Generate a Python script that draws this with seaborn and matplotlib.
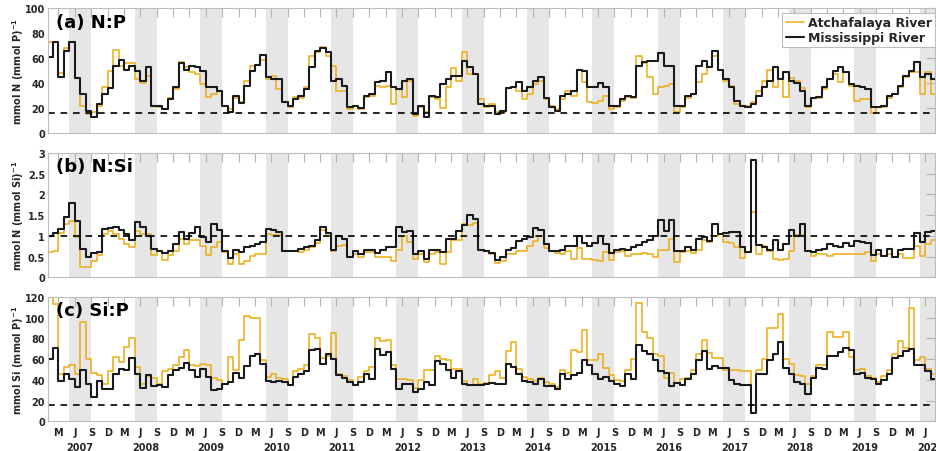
import numpy as np
import pandas as pd
import matplotlib
matplotlib.use("Agg")
import matplotlib.pyplot as plt
import matplotlib.dates as mdates
from matplotlib.ticker import FuncFormatter, MultipleLocator
import seaborn as sns

# ---------------- data (monthly, Jan 2007 - Jul 2020) ----------------
START = "2007-01-01"
RIVERS = ["Atchafalaya River", "Mississippi River"]
PANEL_TITLES = ["(a) N:P", "(b) N:Si", "(c) Si:P"]
YLABELS = [r"mmol N (mmol P)$^{-1}$", r"mmol N (mmol Si)$^{-1}$", r"mmol Si (mmol P)$^{-1}$"]
REF_LINES = [16, 1, 16]
YLIMS = [(0, 100), (0, 3), (0, 120)]
YSTEPS = [20, 0.5, 20]

np_miss = [61, 73, 45, 66, 73, 44, 31, 18, 13, 23, 31, 36,
           54, 59, 51, 54, 50, 42, 53, 22, 22, 19, 27, 37,
           56, 51, 54, 53, 50, 37, 37, 34, 22, 17, 30, 24,
           38, 50, 55, 63, 45, 43, 43, 25, 22, 27, 30, 35,
           53, 66, 68, 65, 42, 43, 38, 21, 22, 20, 30, 31,
           41, 42, 49, 37, 35, 42, 43, 15, 22, 13, 30, 29,
           39, 43, 46, 46, 58, 53, 47, 23, 22, 22, 15, 18,
           36, 37, 41, 34, 37, 42, 45, 28, 21, 18, 30, 31,
           34, 51, 50, 37, 37, 40, 37, 22, 22, 27, 30, 29,
           54, 57, 58, 58, 64, 54, 54, 22, 22, 30, 31, 54,
           58, 53, 66, 51, 43, 37, 26, 22, 21, 23, 30, 37,
           42, 53, 43, 49, 42, 40, 34, 22, 28, 29, 37, 43,
           50, 53, 49, 39, 38, 37, 35, 21, 21, 22, 30, 31,
           38, 46, 50, 57, 45, 47, 43]
np_atch = [73, 73, 48, 68, 73, 44, 22, 15, 17, 22, 37, 50,
           67, 54, 56, 56, 43, 40, 46, 22, 21, 19, 28, 35,
           57, 53, 49, 47, 39, 29, 31, 34, 22, 19, 28, 25,
           42, 54, 55, 59, 43, 46, 35, 25, 21, 29, 28, 37,
           62, 65, 69, 62, 54, 34, 34, 19, 22, 19, 29, 30,
           38, 37, 38, 23, 35, 29, 42, 14, 21, 17, 29, 27,
           20, 37, 52, 42, 65, 47, 47, 27, 21, 23, 17, 17,
           36, 37, 34, 27, 31, 39, 42, 27, 22, 19, 27, 34,
           30, 51, 41, 25, 24, 26, 30, 19, 21, 26, 29, 28,
           62, 56, 45, 31, 37, 38, 39, 17, 21, 28, 31, 41,
           47, 53, 62, 51, 42, 38, 23, 22, 22, 25, 34, 42,
           51, 37, 43, 29, 44, 42, 36, 21, 28, 28, 35, 43,
           47, 41, 49, 38, 26, 27, 27, 16, 21, 21, 28, 31,
           37, 45, 49, 49, 31, 49, 31]

nsi_miss = [1.0, 1.06, 1.17, 1.45, 1.79, 1.35, 0.68, 0.5, 0.58, 0.6, 1.17, 1.19,
            1.21, 1.14, 1.05, 0.9, 1.33, 1.22, 1.0, 0.68, 0.63, 0.58, 0.64, 0.8,
            1.09, 0.93, 1.06, 1.21, 0.97, 0.85, 1.29, 1.13, 0.64, 0.47, 0.66, 0.6,
            0.72, 0.76, 0.8, 0.85, 1.17, 1.14, 1.09, 0.64, 0.63, 0.63, 0.68, 0.72,
            0.76, 0.89, 1.22, 1.06, 0.66, 1.0, 0.93, 0.5, 0.63, 0.56, 0.66, 0.66,
            0.58, 0.66, 0.72, 0.72, 1.22, 1.09, 1.11, 0.56, 0.63, 0.44, 0.66, 0.66,
            0.6, 0.93, 0.93, 1.11, 1.25, 1.49, 1.41, 0.66, 0.63, 0.58, 0.42, 0.5,
            0.66, 0.71, 0.87, 0.93, 0.98, 1.19, 1.14, 0.8, 0.63, 0.63, 0.66, 0.76,
            0.76, 1.0, 0.82, 0.76, 0.82, 1.0, 0.8, 0.58, 0.66, 0.68, 0.66, 0.72,
            0.79, 0.85, 0.9, 1.0, 1.38, 1.11, 1.37, 0.63, 0.63, 0.74, 0.66, 0.93,
            0.97, 0.87, 1.29, 1.05, 1.06, 1.09, 1.09, 0.72, 0.6, 2.83, 0.79, 0.74,
            0.66, 0.89, 0.66, 0.8, 1.14, 1.0, 1.29, 0.63, 0.6, 0.66, 0.68, 0.8,
            0.76, 0.72, 0.82, 0.76, 0.87, 0.85, 0.82, 0.54, 0.66, 0.52, 0.68, 0.48,
            0.66, 0.68, 0.68, 1.06, 0.85, 1.09, 1.11]
nsi_atch = [0.6, 0.64, 1.06, 1.29, 1.35, 0.97, 0.24, 0.26, 0.39, 0.54, 1.05, 1.11,
            1.05, 0.93, 0.8, 0.72, 1.11, 1.05, 1.05, 0.54, 0.63, 0.42, 0.54, 0.64,
            0.93, 0.8, 0.89, 0.9, 0.76, 0.54, 0.72, 0.85, 0.6, 0.31, 0.56, 0.32,
            0.4, 0.52, 0.56, 0.56, 1.05, 1.03, 1.03, 0.63, 0.63, 0.63, 0.6, 0.66,
            0.72, 0.82, 1.14, 1.0, 0.64, 0.76, 0.78, 0.48, 0.56, 0.48, 0.6, 0.6,
            0.5, 0.48, 0.48, 0.39, 0.66, 1.0, 0.85, 0.44, 0.55, 0.36, 0.56, 0.6,
            0.32, 0.6, 0.89, 0.89, 1.29, 1.25, 1.3, 0.66, 0.63, 0.55, 0.34, 0.4,
            0.55, 0.55, 0.64, 0.64, 0.76, 0.87, 1.0, 0.71, 0.63, 0.58, 0.56, 0.63,
            0.44, 0.71, 0.44, 0.44, 0.42, 0.4, 0.6, 0.42, 0.6, 0.63, 0.52, 0.55,
            0.56, 0.58, 0.56, 0.48, 0.66, 0.66, 0.93, 0.36, 0.6, 0.64, 0.58, 0.66,
            0.89, 0.85, 1.0, 1.05, 0.85, 0.82, 0.72, 0.47, 0.6, 1.57, 0.56, 0.76,
            0.64, 0.44, 0.42, 0.44, 0.63, 1.03, 1.03, 0.63, 0.52, 0.55, 0.55, 0.52,
            0.56, 0.56, 0.55, 0.55, 0.55, 0.56, 0.6, 0.39, 0.56, 0.52, 0.56, 0.48,
            0.56, 0.47, 0.47, 0.76, 0.52, 0.8, 0.9]

sip_miss = [60, 71, 39, 46, 41, 33, 49, 36, 23, 39, 31, 31,
            46, 50, 49, 61, 46, 32, 45, 34, 35, 33, 45, 49,
            51, 56, 49, 43, 50, 43, 30, 31, 36, 38, 47, 42,
            53, 63, 65, 55, 39, 38, 39, 38, 35, 43, 46, 48,
            69, 70, 55, 65, 60, 45, 42, 38, 35, 38, 46, 41,
            70, 64, 67, 50, 31, 36, 36, 28, 31, 38, 35, 58,
            55, 49, 42, 48, 36, 35, 35, 35, 36, 37, 36, 36,
            55, 52, 46, 39, 38, 36, 41, 34, 34, 31, 46, 41,
            45, 47, 59, 54, 46, 41, 43, 39, 36, 34, 46, 41,
            74, 68, 65, 59, 48, 47, 34, 37, 35, 41, 46, 59,
            68, 50, 53, 51, 51, 40, 36, 35, 35, 8, 46, 46,
            59, 65, 76, 51, 46, 38, 36, 26, 42, 51, 50, 63,
            63, 67, 71, 69, 46, 47, 42, 41, 36, 40, 46, 61,
            63, 68, 70, 54, 54, 48, 41]
sip_atch = [125, 113, 46, 52, 54, 46, 96, 60, 47, 45, 36, 48,
            62, 57, 72, 80, 52, 36, 44, 42, 36, 48, 50, 54,
            62, 69, 54, 53, 55, 54, 42, 40, 36, 62, 49, 78,
            101, 100, 100, 59, 43, 46, 42, 41, 35, 48, 50, 54,
            84, 80, 61, 63, 85, 46, 44, 40, 35, 43, 48, 52,
            80, 77, 78, 54, 41, 41, 40, 32, 40, 49, 49, 63,
            60, 59, 50, 50, 39, 35, 41, 36, 37, 45, 48, 42,
            68, 76, 50, 43, 41, 39, 42, 38, 36, 33, 49, 47,
            69, 67, 88, 59, 59, 65, 51, 45, 40, 39, 49, 60,
            114, 86, 80, 65, 63, 42, 47, 37, 41, 42, 49, 65,
            78, 66, 61, 61, 49, 49, 49, 48, 48, 16, 49, 60,
            90, 90, 103, 60, 55, 45, 44, 36, 44, 54, 54, 86,
            81, 81, 86, 62, 49, 50, 44, 42, 38, 44, 49, 65,
            77, 71, 109, 59, 62, 50, 46]

SERIES = [(np_atch, np_miss), (nsi_atch, nsi_miss), (sip_atch, sip_miss)]

# ---------------- style ----------------
sns.set_style("white")
plt.rcParams["font.family"] = ["DejaVu Sans"]
plt.rcParams["font.weight"] = "bold"
plt.rcParams["mathtext.default"] = "bf"

ORANGE = "#EDB120"
BLACK = "#1a1a1a"
SPINE = "#bdbdbd"
TXT = "#262626"
palette = {RIVERS[0]: ORANGE, RIVERS[1]: BLACK}
widths = {RIVERS[0]: 1.2, RIVERS[1]: 1.5}

fig = plt.figure(figsize=(9.36, 4.52), dpi=100)
L, W = 0.0511, 0.948
bottoms = [0.7035, 0.3843, 0.0657]
H = 0.2755

n = len(np_miss)
dates = pd.date_range(START, periods=n + 1, freq="MS")
xmin = pd.Timestamp("2007-01-01")
xmax = pd.Timestamp("2020-07-27")

month_letter = FuncFormatter(lambda v, p: "JFMAMJJASOND"[mdates.num2date(v).month - 1])
year_fmt = FuncFormatter(lambda v, p: str(mdates.num2date(v).year))

for i in range(3):
    ax = fig.add_axes([L, bottoms[i], W, H])
    atch, miss = SERIES[i]
    df = pd.concat([
        pd.DataFrame({"date": dates, "value": list(atch) + [atch[-1]], "river": RIVERS[0]}),
        pd.DataFrame({"date": dates, "value": list(miss) + [miss[-1]], "river": RIVERS[1]}),
    ], ignore_index=True)

    for yr in range(2007, 2021):
        ax.axvspan(pd.Timestamp(yr, 5, 1), pd.Timestamp(yr, 9, 1),
                   color="#e6e6e6", lw=0, zorder=0)

    sns.lineplot(data=df, x="date", y="value", hue="river", hue_order=RIVERS,
                 palette=palette, estimator=None, drawstyle="steps-post",
                 legend=False, ax=ax, zorder=3)
    for ln, r in zip(ax.lines[:2], RIVERS):
        ln.set_linewidth(widths[r])

    ax.axhline(REF_LINES[i], color="black", lw=1.2, ls=(0, (4, 3.5)), zorder=4)

    ax.set_xlim(xmin, xmax)
    ax.set_ylim(*YLIMS[i])
    ax.yaxis.set_major_locator(MultipleLocator(YSTEPS[i]))
    ax.yaxis.set_major_formatter(FuncFormatter(lambda v, p: f"{v:g}"))

    ax.xaxis.set_major_locator(mdates.MonthLocator(bymonth=[3, 6, 9, 12]))
    ax.xaxis.set_minor_locator(mdates.MonthLocator(bymonth=[7]))
    ax.xaxis.set_major_formatter(month_letter)
    ax.xaxis.set_minor_formatter(year_fmt)

    ax.tick_params(which="major", direction="in", length=6.5, width=0.8,
                   color="#b3b3b3", top=True, right=True, labelsize=7,
                   labelcolor=TXT)
    ax.tick_params(axis="x", which="major", pad=4)
    ax.tick_params(axis="y", which="major", pad=2)
    ax.tick_params(axis="x", which="minor", length=0, pad=15, labelsize=7,
                   labelcolor=TXT)
    if i < 2:
        ax.tick_params(axis="x", which="both", labelbottom=False)

    for s in ax.spines.values():
        s.set_color(SPINE)
        s.set_linewidth(0.8)
        s.set_zorder(5)

    ax.set_xlabel("")
    ax.set_ylabel(YLABELS[i], fontsize=7, fontweight="bold", color=TXT)
    ax.yaxis.set_label_coords(-0.025, 0.5)

    ax.text(0.009, 0.965, PANEL_TITLES[i], transform=ax.transAxes, ha="left",
            va="top", fontsize=13, fontweight="bold", color="black", zorder=6)

    if i == 0:
        leg = ax.legend(handles=ax.lines[:2], labels=RIVERS, loc="upper right",
                        bbox_to_anchor=(1.0, 0.963), borderaxespad=0,
                        prop={"size": 9, "weight": "bold"}, frameon=True,
                        fancybox=False, edgecolor=SPINE, framealpha=1,
                        handlelength=1.5, handletextpad=0.3, borderpad=0.25,
                        labelspacing=0.15)
        leg.get_frame().set_linewidth(0.8)
        leg.set_zorder(7)

fig.savefig("out.png", dpi=100)
